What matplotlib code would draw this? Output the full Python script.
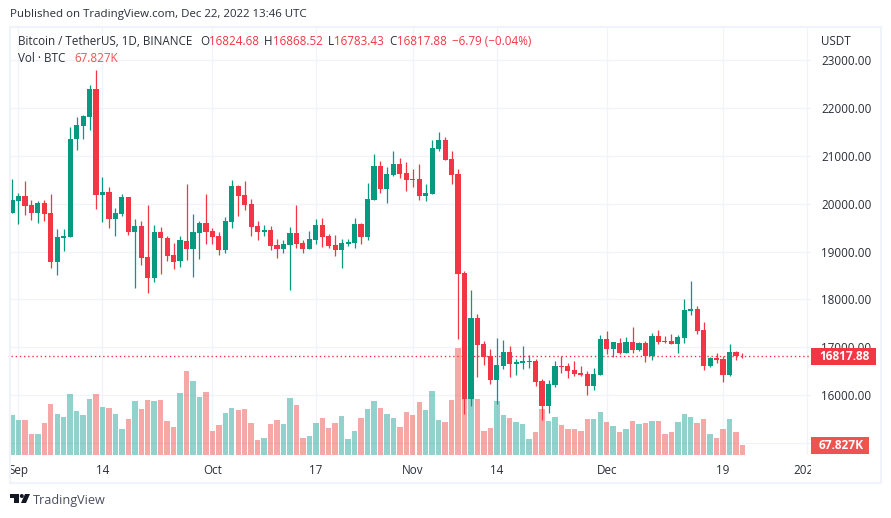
#!/usr/bin/env python3
"""BTC/USDT daily candles with volume, TradingView style."""

import matplotlib

matplotlib.use("Agg")
import matplotlib.pyplot as plt
import numpy as np
import pandas as pd
from matplotlib.patches import Circle, Polygon, Rectangle

W, H = 891, 518
FIRST_DAY = "2022-08-31"

opens = [
    19817, 20049, 20154, 19965, 19817, 20007, 19817, 18786, 19291, 19312, 21355, 21627, 21816, 22401, 20175,
    20239, 19691, 19796, 20133, 19417, 19544, 18891, 18449, 19417, 19291, 18933, 18807, 19228, 19059, 19396,
    19607, 19438, 19333, 19038, 19628, 20365, 20175, 19986, 19544, 19417, 19459, 19144, 19059, 19144, 19396,
    19186, 19059, 19249, 19565, 19333, 19144, 19038, 19165, 19186, 19586, 19312, 20070, 20786, 20302, 20597,
    20828, 20639, 20512, 20512, 20154, 20197, 21144, 21334, 20934, 20618, 18554, 15920, 17613, 17070, 16819,
    16317, 16610, 16902, 16652, 16672, 16693, 16714, 16296, 15773, 16212, 16610, 16610, 16526, 16463, 16442,
    16191, 16421, 17174, 16965, 17090, 16882, 17111, 16944, 17090, 16820, 17236, 17132, 17132, 17069, 17194,
    17756, 17798, 17361, 16611, 16778, 16757, 16424, 16903, 16824.68,
]
highs = [
    20512, 20218, 20470, 20070, 20049, 20070, 20197, 19480, 19480, 21607, 21816, 21858, 22485, 22799, 20555,
    20344, 19902, 20197, 20133, 19691, 19649, 19965, 19565, 19523, 19333, 19186, 19333, 20407, 19796, 19649,
    20197, 19502, 19417, 19733, 20491, 20386, 20470, 20091, 19649, 19565, 19544, 19270, 19249, 19523, 19965,
    19249, 19438, 19691, 19712, 19375, 19354, 19270, 19270, 19712, 19607, 20428, 21039, 20892, 20765, 21102,
    20955, 20870, 20723, 20828, 20407, 21334, 21502, 21397, 21102, 20723, 18596, 18199, 17697, 17132, 16965,
    17195, 17153, 17028, 16756, 17028, 16840, 16756, 16338, 16317, 16714, 16819, 16672, 16714, 16610, 16505,
    16568, 17258, 17341, 17111, 17194, 17215, 17423, 17111, 17132, 17298, 17361, 17236, 17278, 17257, 18006,
    18381, 17860, 17527, 16799, 16882, 16820, 17069, 16924, 16868.52,
]
lows = [
    19817, 19586, 19775, 19670, 19607, 19649, 18659, 18512, 19017, 19312, 21125, 21355, 21544, 19881, 19628,
    19502, 19333, 19754, 19354, 18238, 18722, 18133, 18364, 18533, 18807, 18638, 18680, 18828, 18470, 18849,
    19165, 19165, 18933, 18975, 19502, 19754, 19860, 19333, 19249, 19333, 19038, 18870, 18975, 18196, 19080,
    18975, 19059, 19165, 19101, 19080, 18912, 18659, 19122, 19080, 19165, 19249, 20070, 20218, 20007, 20576,
    20534, 20260, 20344, 20070, 20049, 20197, 21102, 20913, 20407, 17174, 15606, 15773, 16380, 16631, 16233,
    15815, 16547, 16380, 16421, 16547, 16568, 16191, 15481, 15627, 16171, 16463, 16359, 16401, 16401, 16003,
    16108, 16421, 16861, 16799, 16861, 16882, 16882, 16924, 16695, 16736, 17069, 17090, 17069, 16882, 17090,
    17673, 17278, 16528, 16590, 16674, 16278, 16403, 16736, 16783.43,
]
closes = [
    20070, 20154, 19944, 19817, 20007, 19796, 18786, 19312, 19333, 21355, 21648, 21837, 22401, 20175, 20239,
    19691, 19817, 20133, 19417, 19544, 18870, 18449, 19417, 19291, 18912, 18786, 19249, 19059, 19417, 19607,
    19417, 19312, 19038, 19649, 20365, 20154, 19965, 19523, 19417, 19459, 19122, 19059, 19165, 19396, 19165,
    19059, 19270, 19565, 19312, 19122, 19038, 19186, 19207, 19586, 19312, 20091, 20786, 20302, 20618, 20828,
    20618, 20491, 20491, 20154, 20218, 21165, 21334, 20913, 20597, 18533, 15920, 17613, 17049, 16798, 16317,
    16631, 16902, 16652, 16693, 16714, 16714, 16275, 15773, 16233, 16610, 16589, 16505, 16442, 16421, 16191,
    16442, 17174, 16965, 17111, 16882, 17111, 16944, 17090, 16820, 17236, 17111, 17111, 17069, 17215, 17777,
    17798, 17340, 16611, 16778, 16736, 16424, 16903, 16820, 16817.88,
]
# thousands of BTC
volumes = [
    271, 237, 237, 142, 142, 217, 346, 278, 258, 414, 298, 271, 380, 414, 325,
    319, 278, 176, 244, 366, 312, 373, 366, 373, 231, 190, 420, 570, 502, 393,
    427, 163, 203, 285, 319, 305, 312, 217, 102, 115, 210, 237, 210, 386, 339,
    115, 129, 217, 251, 183, 217, 264, 108, 163, 251, 312, 366, 319, 278, 251,
    190, 292, 271, 359, 305, 434, 237, 224, 373, 725, 380, 583, 380, 163, 183,
    366, 271, 251, 224, 210, 108, 156, 312, 231, 258, 203, 176, 176, 163, 244,
    244, 292, 224, 197, 156, 176, 231, 210, 217, 231, 231, 142, 156, 224, 278,
    258, 217, 244, 142, 115, 176, 244, 156, 67.827,
]

price_ticks = [15000, 16000, 17000, 18000, 19000, 20000, 21000, 22000, 23000]
price_labels = ["", "16000.00", "17000.00", "18000.00", "19000.00", "20000.00", "21000.00", "22000.00", "23000.00"]
time_tick_dates = ["2022-09-01", "2022-09-14", "2022-10-01", "2022-10-17", "2022-11-01", "2022-11-14",
                   "2022-12-01", "2022-12-19", "2023-01-01"]
time_tick_labels = ["Sep", "14", "Oct", "17", "Nov", "14", "Dec", "19", "2023"]

GREEN = "#089981"
RED = "#f23645"
VOL_GREEN = "#26a69a"
VOL_RED = "#ef5350"
GRID = "#f0f3fa"
TEXT = "#2a2e39"
FONT = "Open Sans"

plt.rcParams["font.family"] = FONT

opens = np.array(opens, dtype=float)
highs = np.array(highs, dtype=float)
lows = np.array(lows, dtype=float)
closes = np.array(closes, dtype=float)
volumes = np.array(volumes, dtype=float)

days = pd.date_range(FIRST_DAY, periods=len(opens))
x = np.arange(len(days))
up = closes >= opens
time_ticks = [(pd.Timestamp(d) - days[0]).days for d in time_tick_dates]


def fig_xy(px, py):
    return px / W, 1 - py / H


def label(px, py, text, color=TEXT, size=8.4, **kwargs):
    fx, fy = fig_xy(px, py + 0.7)
    kwargs.setdefault("va", "center")
    return fig.text(fx, fy, text, color=color, fontsize=size, **kwargs)


fig = plt.figure(figsize=(W / 100, H / 100), dpi=100, facecolor="white")

# pixel box of the pane
left, right, top, bottom = 11, 811, 28, 455
box = [left / W, 1 - bottom / H, (right - left) / W, (bottom - top) / H]
day_width = 6.464
xlim = ((left - 12) / day_width, (right - 12) / day_width)
px_per_price = 47.8 / 1000
ylim = (16000 - (bottom - 395) / px_per_price, 16000 + (395 - top) / px_per_price)
vol_top = (bottom - top) * 6.78

ax = fig.add_axes(box, zorder=0)
ax.set_xlim(xlim)
ax.set_ylim(ylim)
ax.set_xticks(time_ticks)
ax.set_yticks(price_ticks, price_labels)
ax.yaxis.tick_right()
ax.tick_params(axis="y", length=0, pad=7.5, labelsize=8.4, labelcolor=TEXT)
ax.tick_params(axis="x", length=0, labelbottom=False)
ax.grid(color=GRID, linewidth=0.9)
ax.set_axisbelow(True)
for spine in ax.spines.values():
    spine.set_visible(False)

vol_ax = fig.add_axes(box, zorder=1)
vol_ax.patch.set_visible(False)
vol_ax.axis("off")
vol_ax.set_xlim(xlim)
vol_ax.set_ylim(0, vol_top)
vol_ax.bar(x, volumes, width=0.84, color=np.where(up, VOL_GREEN, VOL_RED), alpha=0.5, linewidth=0)

candle_ax = fig.add_axes(box, zorder=2)
candle_ax.patch.set_visible(False)
candle_ax.axis("off")
candle_ax.set_xlim(xlim)
candle_ax.set_ylim(ylim)
candle_ax.axhline(closes[-1], color=RED, linewidth=1.0, linestyle=(0, (1, 2)), zorder=1)
colors = np.where(up, GREEN, RED)
candle_ax.vlines(x, lows, highs, colors=colors, linewidth=0.9, zorder=2)
candle_ax.bar(x, np.abs(closes - opens), bottom=np.minimum(opens, closes), width=0.8, color=colors, linewidth=0, zorder=3)

# time axis, its labels get cut by the pane edges
time_ax = fig.add_axes([left / W, 1 - 483 / H, (right - left) / W, 28 / H], zorder=2)
time_ax.axis("off")
time_ax.set_xlim(xlim)
time_ax.set_ylim(0, 1)
for tick, text in zip(time_ticks, time_tick_labels):
    time_ax.text(tick, 0.44, text, ha="center", va="center", fontsize=8.4, color=TEXT, clip_on=True)

# outer frame
fx, fy = fig_xy(10, 483)
fig.add_artist(Rectangle((fx, fy), 871 / W, 456 / H, transform=fig.transFigure, fill=False,
                         edgecolor=GRID, linewidth=1.5, zorder=3))

# last value tags on the price scale
for x0, x1, y0, y1, color, text in [(811, 876, 348, 365, RED, f"{closes[-1]:.2f}"),
                                    (811, 869, 437, 454, VOL_RED, f"{volumes[-1]:.3f}K")]:
    fx, fy = fig_xy(x0, y1)
    fig.add_artist(Rectangle((fx, fy), (x1 - x0) / W, (y1 - y0) / H, transform=fig.transFigure,
                             facecolor=color, edgecolor="none", zorder=5))
    label((x0 + x1) / 2 + 1, (y0 + y1) / 2 - 1, text, color="white", size=8.6, ha="center",
          fontweight="bold", zorder=6)

label(10, 14, "Published on TradingView.com, Dec 22, 2022 13:46 UTC", size=8.25)
label(821, 41, "USDT")

label(18, 41, "Bitcoin / TetherUS, 1D, BINANCE")
for px, text, color in [(200, "O", TEXT), (209, f"{opens[-1]:.2f}", RED),
                        (264, "H", TEXT), (273, f"{highs[-1]:.2f}", RED),
                        (328, "L", TEXT), (334, f"{lows[-1]:.2f}", RED),
                        (389, "C", TEXT), (397, f"{closes[-1]:.2f}", RED),
                        (452, "\u22126.79 (\u22120.04%)", RED)]:
    label(px, 41, text, color=color)
label(18, 58, "Vol \u00b7 BTC")
label(74, 58, f"{volumes[-1]:.3f}K", color=VOL_RED)

# logo
logo = "#131722"
for points in [[(10, 494), (19, 494), (19, 503), (14, 503), (14, 498), (10, 498)],
               [(25, 494), (30, 494), (26, 503), (21, 503)]]:
    fig.add_artist(Polygon([fig_xy(*p) for p in points], closed=True, transform=fig.transFigure,
                           facecolor=logo, edgecolor="none"))
fig.add_artist(Circle((21.8, H - 496), 2, transform=None, facecolor=logo, edgecolor="none"))
label(33, 499.5, "TradingView", color="#4a4f5e", size=9.1)

fig.savefig("out.png", dpi=100)
